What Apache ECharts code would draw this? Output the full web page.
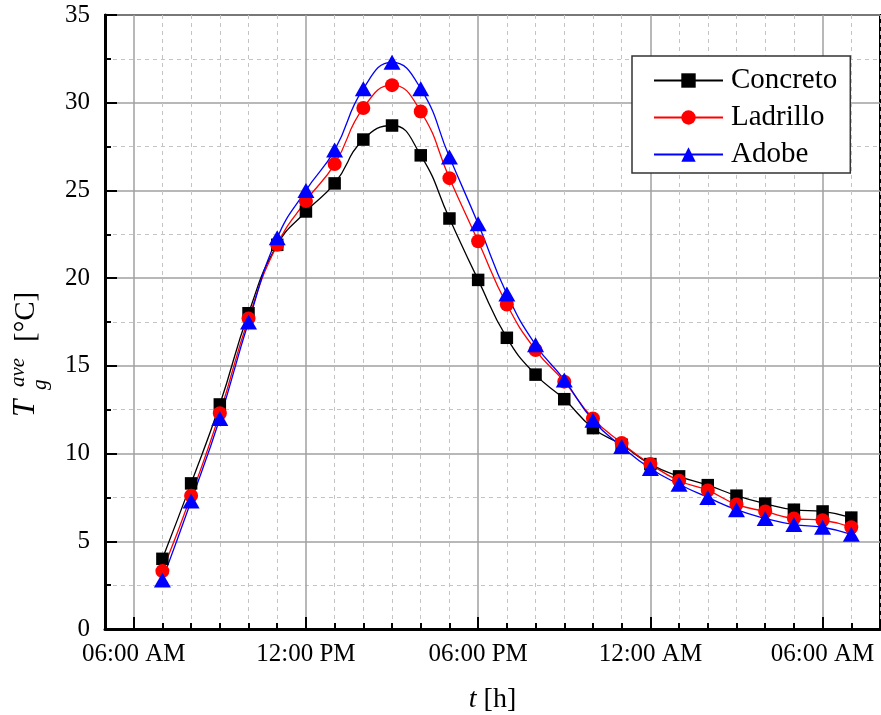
<!DOCTYPE html>
<html><head><meta charset="utf-8">
<script src="https://cdn.jsdelivr.net/npm/echarts@6/dist/echarts.min.js"></script>
<style>html,body{margin:0;padding:0;background:#fff}#c{width:881px;height:715px}</style>
</head><body><div id="c"></div>
<script>
// Axis hours (5 = 05:00 AM day 1, 32 = 08:00 AM day 2)
const axisHours = [5,6,7,8,9,10,11,12,13,14,15,16,17,18,19,20,21,22,23,24,25,26,27,28,29,30,31,32];
// Sample hours (07:00 AM day 1 .. 07:00 AM day 2)
const sampleHours = [7,8,9,10,11,12,13,14,15,16,17,18,19,20,21,22,23,24,25,26,27,28,29,30,31];
const concreto = [4.0, 8.3, 12.8, 18.0, 21.9, 23.8, 25.4, 27.9, 28.7, 27.0, 23.4, 19.9, 16.6, 14.5, 13.1, 11.45, 10.5, 9.4, 8.7, 8.2, 7.6, 7.15, 6.8, 6.7, 6.35];
const ladrillo = [3.3, 7.6, 12.3, 17.7, 21.9, 24.4, 26.5, 29.7, 31.0, 29.5, 25.7, 22.1, 18.5, 15.9, 14.1, 12.0, 10.6, 9.4, 8.45, 7.9, 7.1, 6.7, 6.3, 6.2, 5.8];
const adobe    = [2.8, 7.3, 12.0, 17.5, 22.3, 25.0, 27.3, 30.8, 32.3, 30.8, 26.9, 23.1, 19.1, 16.2, 14.2, 11.9, 10.4, 9.15, 8.25, 7.5, 6.8, 6.3, 5.95, 5.8, 5.4];
const yTicks = {min: 0, max: 35, interval: 5};
const seriesNames = ['Concreto', 'Ladrillo', 'Adobe'];

const FONT = '"Liberation Serif", "Times New Roman", serif';
function fmtHour(v) {
  const h = (+v) % 24;
  const ap = h < 12 ? 'AM' : 'PM';
  let h12 = h % 12; if (h12 === 0) h12 = 12;
  return (h12 < 10 ? '0' : '') + h12 + ':00 ' + ap;
}
const isMajor = (i, v) => (+v) % 6 === 0;
const cats = axisHours.map(String);
const pairs = arr => arr.map((v, i) => [String(sampleHours[i]), v]);

const chart = echarts.init(document.getElementById('c'), null, {renderer: 'canvas'});
chart.setOption({
  animation: false,
  backgroundColor: '#fff',
  grid: {left: 105, right: 1, top: 15, bottom: 86, show: true, borderColor: '#000', borderWidth: 2, containLabel: false, outerBoundsMode: 'none'},
  legend: {
    data: seriesNames, orient: 'vertical', left: 632, top: 56,
    itemWidth: 69, itemHeight: 18, itemGap: 8,
    padding: [10, 13, 4, 21],
    borderColor: '#333', borderWidth: 1.5, backgroundColor: '#fff',
    textStyle: {fontFamily: FONT, fontSize: 29, color: '#000', padding: [0, 0, 0, 3]}
  },
  xAxis: [{
    type: 'category', data: cats, boundaryGap: false, position: 'bottom',
    name: '{i|t} [h]', nameLocation: 'middle', nameGap: 57,
    nameTextStyle: {fontFamily: FONT, fontSize: 28, color: '#000', rich: {i: {fontStyle: 'italic', fontFamily: FONT, fontSize: 28}}},
    axisLine: {show: true, lineStyle: {color: '#000', width: 3}},
    axisTick: {show: true, inside: true, length: 6, interval: 0, lineStyle: {color: '#000', width: 2}},
    axisLabel: {interval: isMajor, formatter: fmtHour, fontFamily: FONT, fontSize: 25, color: '#000', margin: 13},
    splitLine: {show: true, interval: (i, v) => !isMajor(i, v), lineStyle: {color: '#c4c4c4', width: 1, type: [4, 4]}}
  }, {
    type: 'category', data: cats, boundaryGap: false, position: 'bottom',
    axisLine: {show: false},
    axisTick: {show: true, inside: true, length: 12, interval: isMajor, lineStyle: {color: '#000', width: 2}},
    axisLabel: {show: false},
    splitLine: {show: true, interval: isMajor, lineStyle: {color: '#a0a0a0', width: 1.5}}
  }],
  yAxis: {
    type: 'value', min: yTicks.min, max: yTicks.max, interval: yTicks.interval,
    axisLine: {show: true, lineStyle: {color: '#000', width: 3}},
    axisTick: {show: true, inside: true, length: 12, lineStyle: {color: '#000', width: 2}},
    minorTick: {show: true, splitNumber: 2, length: 6, lineStyle: {color: '#000', width: 2}},
    axisLabel: {fontFamily: FONT, fontSize: 25, color: '#000', margin: 15},
    splitLine: {show: true, lineStyle: {color: '#a0a0a0', width: 1.5}},
    minorSplitLine: {show: true, lineStyle: {color: '#c4c4c4', width: 1, type: [4, 4]}}
  },
  graphic: [{
    type: 'group', x: 36, y: 417, rotation: Math.PI / 2, silent: true,
    children: [
      {type: 'text', x: 0, y: -10.5, style: {text: 'T', fontFamily: FONT, fontSize: 31, fontStyle: 'italic', fill: '#000', align: 'left', verticalAlign: 'middle'}},
      {type: 'text', x: 30, y: -18, style: {text: 'ave', fontFamily: FONT, fontSize: 21, fontStyle: 'italic', fill: '#000', align: 'left', verticalAlign: 'middle'}},
      {type: 'text', x: 27, y: 4, style: {text: 'g', fontFamily: FONT, fontSize: 21, fontStyle: 'italic', fill: '#000', align: 'left', verticalAlign: 'middle'}},
      {type: 'text', x: 75, y: -10, style: {text: '[°C]', fontFamily: FONT, fontSize: 29, fill: '#000', align: 'left', verticalAlign: 'middle'}}
    ]
  }],
  series: [{
    name: seriesNames[0], type: 'line', xAxisIndex: 0, data: pairs(concreto), smooth: 0.5,
    symbol: 'rect', symbolSize: 12.5, showAllSymbol: true,
    lineStyle: {color: '#000', width: 1.3}, itemStyle: {color: '#000'}
  }, {
    name: seriesNames[1], type: 'line', xAxisIndex: 0, data: pairs(ladrillo), smooth: 0.5,
    symbol: 'circle', symbolSize: 14, showAllSymbol: true,
    lineStyle: {color: '#ff0000', width: 1.3}, itemStyle: {color: '#ff0000'}
  }, {
    name: seriesNames[2], type: 'line', xAxisIndex: 0, data: pairs(adobe), smooth: 0.5,
    symbol: 'triangle', symbolSize: [17, 15], showAllSymbol: true,
    lineStyle: {color: '#0000ff', width: 1.3}, itemStyle: {color: '#0000ff'}
  }]
});
</script></body></html>
